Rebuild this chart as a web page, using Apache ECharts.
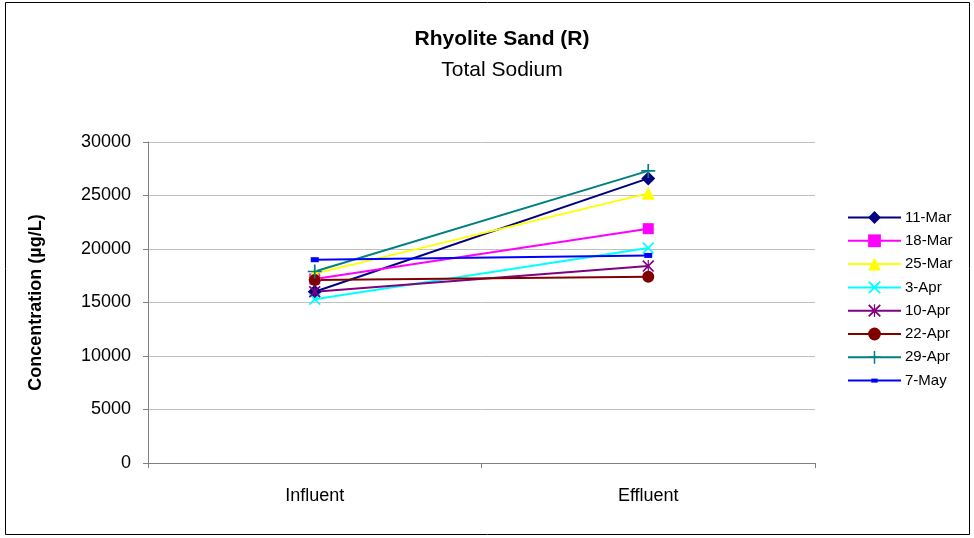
<!DOCTYPE html>
<html>
<head>
<meta charset="utf-8">
<script src="https://cdn.jsdelivr.net/npm/echarts@6/dist/echarts.min.js"></script>
<style>
  html, body { margin: 0; padding: 0; background: #fff; }
  #chart { width: 974px; height: 538px; }
</style>
</head>
<body>
<div id="chart"></div>
<script>
// 数据
const categories = ['Influent', 'Effluent'];
const dates = ['11-Mar', '18-Mar', '25-Mar', '3-Apr', '10-Apr', '22-Apr', '29-Apr', '7-May'];
const mar11 = [16000, 26600];
const mar18 = [17200, 21900];
const mar25 = [17700, 25200];
const apr3 = [15300, 20100];
const apr10 = [16000, 18400];
const apr22 = [17100, 17400];
const apr29 = [17900, 27300];
const may7 = [19000, 19400];
const yTicks = [0, 5000, 10000, 15000, 20000, 25000, 30000];

// 标记形状
const crossPath = 'path://M0,1 L1,0 L5,4 L9,0 L10,1 L6,5 L10,9 L9,10 L5,6 L1,10 L0,9 L4,5 Z';
const plusPath = 'path://M4.4,0 L5.6,0 L5.6,4.4 L10,4.4 L10,5.6 L5.6,5.6 L5.6,10 L4.4,10 L4.4,5.6 L0,5.6 L0,4.4 L4.4,4.4 Z';
const starPath = 'path://M0,1 L1,0 L5,4 L9,0 L10,1 L6,5 L10,9 L9,10 L5,6 L1,10 L0,9 L4,5 Z M4.5,0 L5.5,0 L5.5,10 L4.5,10 Z';
// 小横块, 用空点撑开包围盒
const dashPath = 'path://M0,0 L0,0 M16,16 L16,16 M4,5.5 L12,5.5 L12,10.5 L4,10.5 Z';

const seriesDefs = [
  {name: dates[0], data: mar11, color: '#000080', symbol: 'diamond', size: 14},
  {name: dates[1], data: mar18, color: '#ff00ff', symbol: 'rect', size: 11},
  {name: dates[2], data: mar25, color: '#ffff00', symbol: 'triangle', size: 13},
  {name: dates[3], data: apr3, color: '#00ffff', symbol: crossPath, size: 12},
  {name: dates[4], data: apr10, color: '#800080', symbol: starPath, size: 12},
  {name: dates[5], data: apr22, color: '#800000', symbol: 'circle', size: 12},
  {name: dates[6], data: apr29, color: '#008080', symbol: plusPath, size: 14},
  {name: dates[7], data: may7, color: '#0000ff', symbol: dashPath, size: 16}
];

let chart = echarts.init(document.getElementById('chart'));
chart.setOption({
  animation: false,
  textStyle: {fontFamily: 'Liberation Sans'},
  title: {
    text: 'Rhyolite Sand (R)',
    subtext: 'Total Sodium',
    left: 497,
    top: 24,
    textAlign: 'center',
    itemGap: 10,
    textStyle: {fontSize: 21, fontWeight: 'bold', color: '#000'},
    subtextStyle: {fontSize: 21, color: '#000'}
  },
  graphic: [{
    type: 'rect',
    shape: {x: 5.5, y: 2.5, width: 964, height: 532},
    style: {fill: 'none', stroke: '#000', lineWidth: 1}
  }],
  legend: {
    orient: 'vertical',
    left: 842,
    top: 205,
    itemWidth: 53,
    itemHeight: 16,
    itemGap: 8.3,
    data: dates,
    textStyle: {fontSize: 15, color: '#000', padding: [0, 0, 0, -1]}
  },
  grid: {left: 148, right: 159, top: 142, bottom: 75},
  xAxis: {
    type: 'category',
    data: categories,
    boundaryGap: true,
    axisLine: {lineStyle: {color: '#808080', width: 1}},
    axisTick: {show: true, length: 5, lineStyle: {color: '#808080'}},
    axisLabel: {fontSize: 18, color: '#000', margin: 24}
  },
  yAxis: {
    type: 'value',
    min: yTicks[0],
    max: yTicks[yTicks.length - 1],
    interval: 5000,
    name: 'Concentration (µg/L)',
    nameLocation: 'middle',
    nameGap: 103,
    nameTextStyle: {fontSize: 18, fontWeight: 'bold', color: '#000'},
    axisLine: {show: true, lineStyle: {color: '#808080', width: 1}},
    axisTick: {show: true, length: 5, lineStyle: {color: '#808080'}},
    axisLabel: {fontSize: 18, color: '#000', margin: 17, formatter: (v) => String(v)},
    splitLine: {lineStyle: {color: '#c0c0c0', width: 1}}
  },
  series: seriesDefs.map((s) => {
    return {
      name: s.name,
      type: 'line',
      data: s.data,
      symbol: s.symbol,
      symbolSize: s.size,
      showAllSymbol: true,
      lineStyle: {color: s.color, width: 2},
      itemStyle: {color: s.color, borderColor: s.color, borderWidth: 0},
      emphasis: {disabled: true}
    };
  })
});
</script>
</body>
</html>
